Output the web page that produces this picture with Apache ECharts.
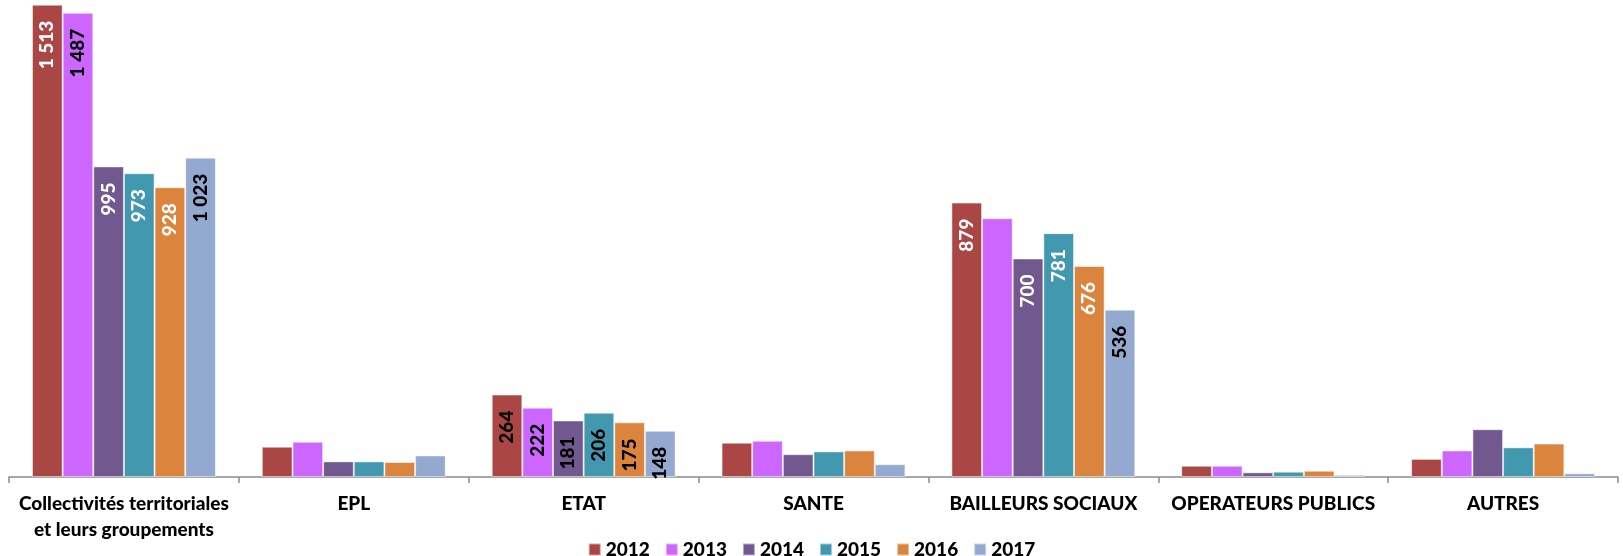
<!DOCTYPE html>
<html>
<head>
<meta charset="utf-8">
<script src="https://cdn.jsdelivr.net/npm/echarts@6/dist/echarts.min.js"></script>
<style>html,body{margin:0;padding:0;background:#fff}#c{width:1623px;height:556px}</style>
</head>
<body>
<div id="c"></div>
<script>
const categories = ['Collectivités territoriales\net leurs groupements', 'EPL', 'ETAT', 'SANTE', 'BAILLEURS SOCIAUX', 'OPERATEURS PUBLICS', 'AUTRES'];
const years = ['2012', '2013', '2014', '2015', '2016', '2017'];
const v2012 = [1513, 97, 264, 110, 879, 36, 58];
const v2013 = [1487, 113, 222, 116, 829, 36, 85];
const v2014 = [995, 50, 181, 73, 700, 15, 153];
const v2015 = [973, 50, 206, 82, 781, 17, 95];
const v2016 = [928, 48, 175, 85, 676, 20, 107];
const v2017 = [1023, 69, 148, 41, 536, 7, 12];
const seriesValues = [v2012, v2013, v2014, v2015, v2016, v2017];

const colors = ['#AA4643', '#CC66FF', '#71588F', '#4198AF', '#DB843D', '#93A9CF'];
// which bars carry a label, and its text colour: [seriesIndex][categoryIndex]
const labelStyle = [
  {0: '#fff', 2: '#000', 4: '#fff'},
  {0: '#000', 2: '#000'},
  {0: '#fff', 2: '#000', 4: '#fff'},
  {0: '#fff', 2: '#000', 4: '#fff'},
  {0: '#fff', 2: '#000', 4: '#fff'},
  {0: '#000', 2: '#000', 4: '#000'}
];
const FONT = 'Lato, "Open Sans", sans-serif';
function fmt(v) { return String(v).replace(/\B(?=(\d{3})+(?!\d))/g, ' '); }

const series = years.map((y, si) => ({
  name: y,
  type: 'bar',
  barGap: '0%',
  barCategoryGap: '20%',
  itemStyle: { color: colors[si], borderColor: 'rgba(255,255,255,0.5)', borderWidth: 1 },
  data: seriesValues[si].map((v, ci) => {
    const lc = labelStyle[si][ci];
    const d = { value: v };
    if (lc) {
      d.label = {
        show: true, position: 'insideTop', rotate: 90, align: 'right', verticalAlign: 'middle',
        distance: 16, color: lc, fontFamily: FONT, fontWeight: 900, fontSize: 19,
        formatter: p => fmt(p.value)
      };
    }
    return d;
  })
}));

const chart = echarts.init(document.getElementById('c'));
chart.setOption({
  animation: false,
  color: colors,
  grid: { left: 9, right: 5, top: 0, bottom: 79, containLabel: false },
  legend: {
    data: years, top: 535, left: 'center', itemWidth: 12, itemHeight: 12, itemGap: 15,
    icon: 'rect',
    textStyle: { fontFamily: FONT, fontWeight: 900, fontSize: 19, color: '#000' }
  },
  xAxis: {
    type: 'category', data: categories,
    axisLine: { lineStyle: { color: '#8c8c8c', width: 1.5 } },
    axisTick: { show: true, length: 6, lineStyle: { color: '#8c8c8c', width: 1.5 } },
    axisLabel: { margin: 14, interval: 0, fontFamily: FONT, fontWeight: 900, fontSize: 19, color: '#000', lineHeight: 26 }
  },
  yAxis: { type: 'value', min: 0, max: 1528, show: false, splitLine: { show: false } },
  series: series
});
</script>
</body>
</html>
